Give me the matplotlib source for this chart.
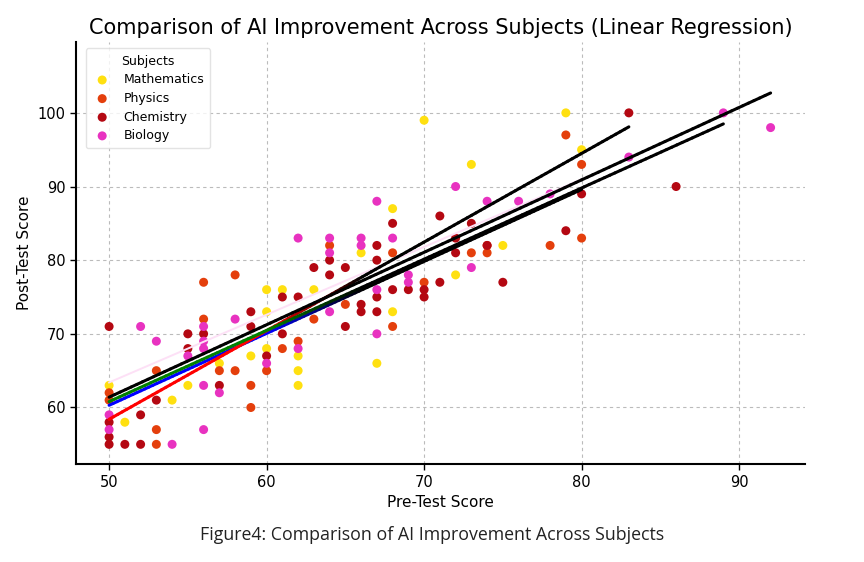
import numpy as np
import matplotlib
matplotlib.use("Agg")
from matplotlib import pyplot as plt
from matplotlib.collections import LineCollection
from matplotlib.colors import to_rgb

subjects = ["Mathematics", "Physics", "Chemistry", "Biology"]
colors = ["#ffe010", "#e43f0c", "#b40812", "#e832c0"]

math_x = [50, 51, 54, 55, 57, 59, 60, 60, 60, 61, 62, 62, 62, 63, 66, 67, 68, 68, 70, 72, 73, 75, 79, 80]
math_y = [63, 58, 61, 63, 66, 67, 76, 73, 68, 76, 67, 65, 63, 76, 81, 66, 87, 73, 99, 78, 93, 82, 100, 95]

phys_x = [50, 50, 53, 53, 53, 56, 56, 57, 58, 58, 59, 59, 60, 61, 62, 63, 64, 65, 68, 68, 70, 73, 74, 74, 78, 79, 80, 80]
phys_y = [62, 61, 65, 57, 55, 77, 72, 65, 78, 65, 63, 60, 65, 68, 69, 72, 82, 74, 81, 71, 77, 81, 81, 82, 82, 97, 93, 83]

chem_x = [50, 50, 50, 50, 51, 52, 52, 53, 55, 55, 56, 57, 59, 59, 60, 61, 61, 62, 63, 64, 64, 65, 65,
          66, 66, 67, 67, 67, 67, 68, 68, 69, 70, 70, 71, 71, 72, 72, 73, 74, 75, 79, 80, 83, 86]
chem_y = [71, 58, 56, 55, 55, 59, 55, 61, 70, 68, 70, 63, 73, 71, 67, 75, 70, 75, 79, 80, 78, 79, 71,
          74, 73, 82, 80, 75, 73, 85, 76, 76, 76, 75, 86, 77, 83, 81, 85, 82, 77, 84, 89, 100, 90]

bio_x = [50, 50, 52, 53, 54, 55, 56, 56, 56, 56, 56, 57, 58, 60, 62, 62, 64, 64, 64, 66, 66, 67, 67,
         67, 68, 69, 69, 72, 73, 74, 76, 78, 83, 89, 92]
bio_y = [59, 57, 71, 69, 55, 67, 71, 69, 68, 63, 57, 62, 72, 66, 83, 68, 83, 81, 73, 83, 82, 88, 76,
         70, 83, 78, 77, 90, 79, 88, 88, 89, 94, 100, 98]

# regression lines (x start/end, y start/end)
reg_colors = ["blue", "red", "green", "black"]
reg_x0 = [50, 50, 50, 50]
reg_x1 = [80, 83, 89, 92]
reg_y0 = [60.3, 58.4, 60.8, 61.4]
reg_y1 = [89.6, 98.1, 98.5, 102.7]
fade_start, fade_end = 60, 66

xs = [math_x, phys_x, chem_x, bio_x]
ys = [math_y, phys_y, chem_y, bio_y]

fig = plt.figure(figsize=(8.64, 5.62), dpi=100)
ax = fig.add_axes([0.088, 0.174, 0.844, 0.751])

for x, y, c, name in zip(xs, ys, colors, subjects):
    ax.scatter(x, y, s=42, color=c, edgecolors="none", label=name, zorder=3)

# faint biology trend
ax.plot([50, 80], [63.4, 91.0], color="#fde0f6", lw=1.4, zorder=3.5)

for c, x0, x1, y0, y1 in zip(reg_colors, reg_x0, reg_x1, reg_y0, reg_y1):
    xx = np.linspace(x0, x1, 120)
    yy = y0 + (y1 - y0) * (xx - x0) / (x1 - x0)
    pts = np.column_stack([xx, yy]).reshape(-1, 1, 2)
    segs = np.concatenate([pts[:-1], pts[1:]], axis=1)
    t = np.clip((xx[:-1] - fade_start) / (fade_end - fade_start), 0, 1)[:, None]
    seg_cols = (1 - t) * np.array(to_rgb(c)) + t * np.array(to_rgb("black"))
    ax.add_collection(LineCollection(segs, colors=seg_cols, linewidths=2.2, zorder=4,
                                     capstyle="round"))

ax.set_xlim(47.9, 94.2)
ax.set_ylim(52.3, 109.6)
ax.set_xticks([50, 60, 70, 80, 90])
ax.set_yticks([60, 70, 80, 90, 100])
ax.grid(True, linestyle=(0, (3, 3)), color="#bbbbbb", linewidth=0.8)
ax.set_axisbelow(True)
for s in ["top", "right"]:
    ax.spines[s].set_visible(False)
for s in ["left", "bottom"]:
    ax.spines[s].set_linewidth(1.5)
ax.tick_params(labelsize=10.5, width=1, length=4)

ax.set_xlabel("Pre-Test Score", fontsize=11)
ax.set_ylabel("Post-Test Score", fontsize=11)
ax.set_title("Comparison of AI Improvement Across Subjects (Linear Regression)",
             fontsize=15, pad=6)

leg = ax.legend(title="Subjects", loc="upper left", fontsize=9, title_fontsize=9,
                handletextpad=0.9, handlelength=1.6, borderpad=0.5, labelspacing=0.45,
                frameon=True, bbox_to_anchor=(0.005, 1.0))
leg.get_frame().set_edgecolor("#dddddd")

fig.text(0.5, 0.040, "Figure4: Comparison of AI Improvement Across Subjects",
         ha="center", fontsize=12.8, family=["Open Sans", "DejaVu Sans"], color="#222222")

fig.savefig("out.png", dpi=100)
